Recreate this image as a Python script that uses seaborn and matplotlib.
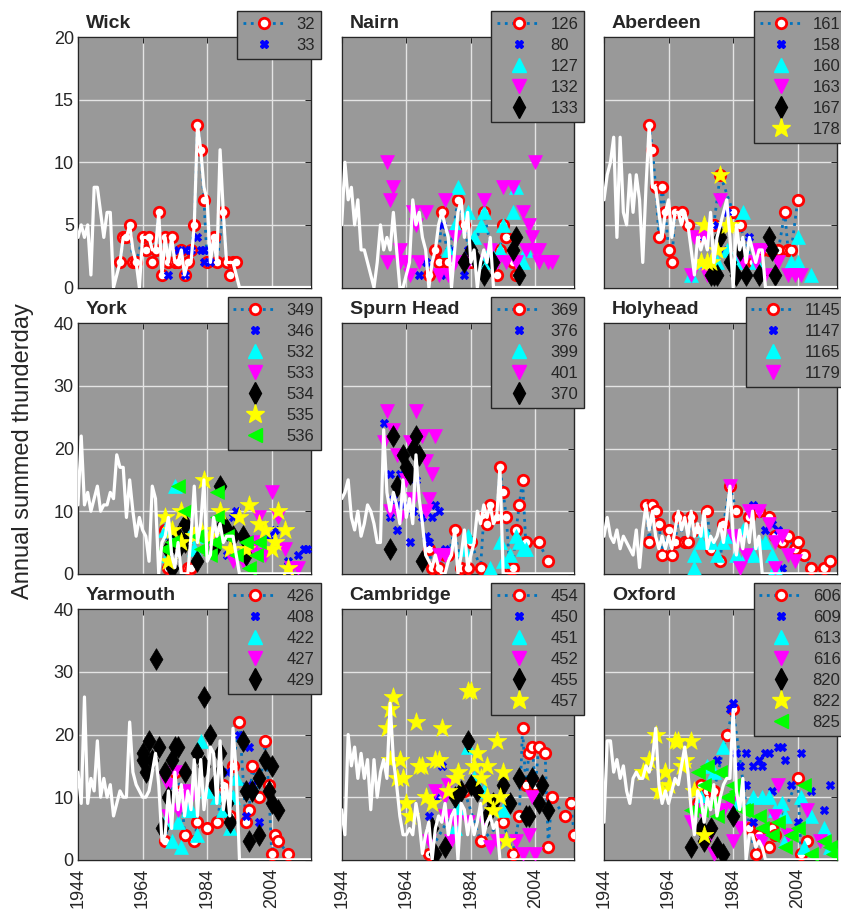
import matplotlib
matplotlib.use("Agg")
import matplotlib.pyplot as plt
import seaborn as sns
import pandas as pd
from matplotlib.lines import Line2D

# ---------------- data ----------------
YEARS = list(range(1944, 2017))
XTICKS = [1944, 1964, 1984, 2004]

wick_white = [4,5,4,5,1,8,8,6,4,6,6,0,1,2,4,4,5,3,2,0,4,4,4,3,3,6,1,4,2,4,2,2,3,1,2,2,5,13,11,8,7,2,4,2,11,6,2,2,2,1,
              0,0,0,0,0,0,0,0,0,0,0,0,0,0,0,0,0,0,0,0,0,0,0]
wick_32 = [(1957,2),(1958,4),(1959,4),(1960,5),(1961,2),(1962,2),(1964,4),(1965,3),(1966,4),(1967,2),(1968,3),(1969,6),
           (1970,1),(1971,4),(1972,2),(1973,4),(1974,2),(1975,2),(1976,3),(1977,1),(1978,2),(1979,3),(1980,5),(1981,13),
           (1982,11),(1983,7),(1984,2),(1986,4),(1987,2),(1989,6),(1990,2),(1991,1),(1992,2),(1993,2)]
wick_33 = [(1972,1),(1975,3),(1977,3),(1977,1),(1979,3),(1981,4),(1982,3),(1983,3),(1983,2),(1985,2)]

nairn_white = [5,10,7,8,5,7,3,3,2,1,0,2,5,3,4,3,6,3,0,0,1,2,7,5,6,4,3,0,2,3,5,6,5,4,0,3,6,7,4,6,2,3,0,2,3,2,4,0,
               0,0,0,0,0,0,0,0,0,0,0,0,0,0,0,0,0,0,0,0,0,0,0,0,0]
nairn_126 = [(1971,1),(1973,3),(1974,2),(1975,6),(1977,2),(1980,7),(1982,5),(1984,2),(1988,6),(1992,1),(1993,3),
             (1994,5),(1995,4),(1997,2),(1998,1)]
nairn_80 = [(1968,1),(1970,2),(1975,5),(1976,1),(1978,3),(1982,1),(1983,3)]
nairn_127 = [(1977,3),(1979,5),(1980,8),(1983,6),(1985,4),(1987,5),(1988,2),(1988,6),(1990,3),(1993,3),(1994,5),
             (1997,6),(1998,8),(2000,2),(2001,3)]
nairn_132 = [(1958,10),(1958,2),(1959,7),(1960,8),(1962,2),(1962,3),(1964,2),(1965,1),(1966,6),(1967,5),(1968,2),
             (1970,6),(1974,1),(1976,7),(1977,1),(1979,2),(1979,4),(1983,2),(1986,2),(1988,7),(1990,3),(1992,2),
             (1994,8),(1995,2),(1997,8),(1998,2),(2000,6),(2001,3),(2002,5),(2003,4),(2004,10),(2004,3),(2005,2),
             (2005,3),(2008,2),(2009,2)]
nairn_133 = [(1982,2),(1984,3),(1986,2),(1988,1),(1991,2),(1997,3),(1998,4),(1999,1)]

aber_white = [7,9,10,12,4,12,6,5,9,6,9,7,2,8,13,8,8,6,4,6,7,4,6,6,5,6,5,3,1,4,3,4,3,6,2,4,5,6,7,4,0,5,3,4,2,4,3,2,3,3,0,
              0,0,0,0,0,0,0,0,0,0,0,0,0,0,0,0,0,0,0,0,0,0]
aber_161 = [(1958,13),(1959,11),(1960,8),(1961,4),(1962,8),(1963,6),(1964,3),(1965,2),(1966,6),(1968,6),(1970,5),
            (1973,4),(1978,5),(1980,9),(1984,6),(1986,5),(1990,2),(1993,3),(1995,3),(1998,3),(2000,6),(2001,3),
            (2002,3),(2004,7)]
aber_158 = [(1975,4),(1979,5),(1981,3),(1982,6),(1989,4)]
aber_160 = [(1971,1),(1974,2),(1979,2),(1982,3),(1985,2),(1987,6),(1991,2),(2002,2),(2004,2),(2004,4),(2008,1)]
aber_163 = [(1971,1),(1972,4),(1975,4),(1976,1),(1980,7),(1987,2),(1991,2),(1991,3),(1993,3),(1994,1),(1998,2),
            (2001,1),(2003,1),(2005,1)]
aber_167 = [(1977,1),(1978,1),(1979,1),(1980,4),(1983,2),(1985,1),(1986,3),(1988,1),(1992,1),(1995,4),(1996,3),(1997,1)]
aber_178 = [(1974,2),(1975,5),(1976,2),(1977,2),(1979,3),(1980,9),(1982,5),(1983,5)]

york_white = [11,22,11,13,10,12,14,10,11,11,13,12,19,17,17,9,15,10,6,9,7,6,2,14,12,0,5,6,9,3,1,5,0,0,0,6,14,5,8,15,
              2,3,9,6,8,5,6,6,6,3,0,0,0,0,0,0,0,0,0,0,0,0,0,0,0,0,0,0,0,0,0,0,0]
york_349 = [(1971,7),(1972,1),(1978,1),(1979,1)]
york_346 = [(1990,3),(1992,9),(1993,10),(2003,6),(2005,7),(2009,2),(2012,3),(2014,4),(2015,4)]
york_532 = [(1971,7),(1972,3),(1973,5),(1974,14),(1978,6),(1980,4),(1983,6)]
york_533 = [(1985,5),(1992,2),(1995,2),(1998,4),(1999,5),(2000,9),(2001,3),(2002,3),(2004,13),(2006,9),(2008,4),
            (2010,1),(2012,1)]
york_534 = [(1972,4),(1973,1),(1975,6),(1975,4),(1977,8),(1977,5),(1981,2),(1986,4),(1988,14),(1989,8),(1990,7),
            (1992,6),(1995,6),(1996,3)]
york_535 = [(1971,9),(1972,2),(1973,7),(1976,10),(1976,5),(1980,6),(1982,7),(1983,15),(1985,6),(1988,10),(1991,4),
            (1994,9),(1996,4),(1997,11),(2000,8),(2002,7),(2004,4),(2005,5),(2006,10),(2008,7),(2009,1)]
york_536 = [(1971,4),(1973,5),(1975,14),(1977,10),(1981,6),(1982,4),(1985,3),(1986,5),(1987,13),(1987,9),(1990,6),
            (1993,3),(1996,5),(1997,1),(1999,3),(2000,5)]

spurn_white = [12,13,15,9,7,10,6,8,11,10,8,5,5,23,13,10,13,11,8,15,9,12,8,19,12,8,3,2,1,3,1,0,0,2,3,7,0,3,7,1,3,5,
               10,8,11,9,11,8,9,17,0,0,0,0,0,0,0,0,0,0,0,0,0,0,0,0,0,0,0,0,0,0,0]
spurn_369 = [(1971,4),(1972,1),(1974,1),(1976,3),(1977,3),(1979,7),(1981,1),(1983,1),(1984,5),(1987,1),(1988,9),
             (1989,8),(1990,11),(1992,9),(1993,17),(1994,13),(1995,9),(1996,1),(1997,1),(1998,7),(1999,11),
             (2000,15),(2001,5),(2005,5),(2008,2)]
spurn_376 = [(1957,24),(1959,16),(1959,9),(1960,12),(1961,11),(1961,7),(1962,16),(1963,11),(1965,5),(1966,10),
             (1967,15),(1969,9),(1970,6),(1971,5),(1972,9),(1973,11),(1974,10),(1976,4)]
spurn_399 = [(1982,4),(1983,6),(1990,1),(1993,5),(1994,2),(1996,3),(1998,6),(1999,5),(2000,4),(2001,4)]
spurn_401 = [(1957,21),(1958,26),(1959,10),(1960,23),(1961,19),(1962,9),(1964,15),(1965,21),(1966,12),(1967,26),
             (1969,22),(1970,18),(1970,10),(1971,12),(1972,16),(1973,22),(1974,3),(1976,3)]
spurn_370 = [(1959,4),(1960,22),(1961,14),(1963,19),(1964,17),(1965,16),(1966,20),(1967,22),(1968,19),(1969,2)]

holy_white = [6,9,6,5,7,4,6,5,4,3,7,1,7,11,7,10,6,4,6,4,6,4,7,10,7,9,6,10,6,8,6,10,4,6,5,6,8,5,9,14,6,3,7,4,8,5,
              10,4,6,0,0,0,0,0,0,0,0,0,0,0,0,0,0,0,0,0,0,0,0,0,0,0,0]
holy_1145 = [(1957,11),(1958,5),(1959,11),(1960,10),(1961,8),(1962,3),(1964,7),(1965,3),(1966,5),(1967,9),(1969,5),
             (1970,5),(1971,9),(1973,7),(1976,10),(1977,4),(1980,2),(1981,8),(1983,14),(1985,10),(1989,9),(1990,10),
             (1992,10),(1995,9),(1997,6),(1999,5),(2001,6),(2003,4),(2004,5),(2006,3),(2008,1),(2012,1),(2014,2)]
holy_1147 = [(1990,11),(1994,7),(1996,8),(1998,7),(1999,1)]
holy_1165 = [(1972,1),(1972,3),(1974,5),(1975,7),(1977,5),(1979,3),(1981,5),(1983,6),(1985,3),(1987,7),(1988,3),
             (1990,3),(1992,5),(1994,5),(1996,3),(1997,1)]
holy_1179 = [(1983,14),(1984,6),(1985,5),(1986,1),(1988,3),(1989,10),(1992,10),(1995,8),(1997,5),(1997,1),(1999,6),
             (2001,3),(2003,2)]

yar_white = [14,9,26,9,13,11,19,10,13,10,12,7,9,11,10,10,22,14,12,11,10,10,11,14,17,12,3,4,11,5,14,8,12,7,11,8,16,
             7,16,8,12,18,17,9,19,8,12,7,21,14,0,0,0,0,0,0,0,0,0,0,0,0,0,0,0,0,0,0,0,0,0,0,0]
yar_426 = [(1971,3),(1974,14),(1976,11),(1977,4),(1980,3),(1981,6),(1984,5),(1987,6),(1989,12),(1991,7),(1992,15),
           (1994,22),(1996,6),(1997,8),(1998,15),(2000,10),(2002,19),(2003,12),(2004,1),(2005,4),(2006,3),(2009,1)]
yar_408 = [(1990,14),(1994,20),(1996,7),(1997,18),(1998,12),(2000,6)]
yar_422 = [(1971,6),(1973,3),(1975,6),(1976,2),(1978,8),(1979,8),(1981,4),(1982,19),(1984,11),(1987,10),(1989,8),
           (1991,5),(1992,10),(1993,13)]
yar_427 = [(1971,13),(1972,12),(1972,7),(1974,14),(1975,8),(1977,10),(1978,11),(1979,10)]
yar_429 = [(1964,17),(1964,16),(1965,14),(1966,19),(1967,16),(1968,32),(1969,18),(1970,5),(1971,14),(1972,10),
           (1973,16),(1974,18),(1975,18),(1977,14),(1981,17),(1983,26),(1983,15),(1985,20),(1986,12),(1988,17),
           (1988,14),(1990,9),(1991,6),(1995,19),(1996,11),(1997,3),(1998,11),(2000,13),(2000,4),(2002,16),
           (2003,11),(2004,15),(2004,9),(2006,8)]

cam_white = [8,4,20,15,18,13,17,13,16,8,16,10,14,16,13,25,16,12,7,4,4,5,4,9,6,1,4,6,0,5,7,6,9,4,7,8,0,9,8,4,7,4,6,
             9,4,6,7,5,6,0,0,0,0,0,0,0,0,0,0,0,0,0,0,0,0,0,0,0,0,0,0,0,0]
cam_454 = [(1971,1),(1982,11),(1987,3),(1994,6),(1997,1),(1999,7),(2000,21),(2001,12),(2002,17),(2003,18),(2004,12),
           (2005,18),(2007,17),(2008,2),(2009,10),(2013,7),(2015,9),(2016,4)]
cam_450 = [(1971,7),(1973,10),(1975,15)]
cam_451 = [(1979,5),(1980,8),(1983,18),(1985,13),(1988,11),(1994,8)]
cam_452 = [(1971,3),(1973,11),(1976,10),(1976,7),(1977,12),(1978,3),(1979,6),(1983,6),(1988,6),(1990,2),(1992,3),
           (1998,3),(2000,1),(2002,4),(2003,10),(2004,1)]
cam_455 = [(1972,5),(1973,1),(1976,2),(1979,10),(1981,11),(1983,19),(1984,12),(1986,11),(1989,7),(1991,9),(1994,12),
           (1996,9),(1999,13),(2001,7),(2002,7),(2003,13),(2005,9),(2006,12),(2008,8)]
cam_457 = [(1958,21),(1959,24),(1959,16),(1960,26),(1961,13),(1962,16),(1963,13),(1964,9),(1965,7),(1967,22),
           (1968,15),(1969,15),(1970,10),(1972,9),(1973,16),(1974,16),(1975,21),(1977,11),(1979,13),(1980,14),
           (1983,27),(1984,27),(1985,15),(1986,17),(1987,13),(1989,15),(1989,10),(1991,8),(1992,19),(1993,10),
           (1994,14),(1995,3)]

ox_white = [6,19,19,14,16,13,15,11,9,13,14,13,13,15,14,16,21,12,9,11,9,11,13,12,15,18,14,8,4,11,10,6,10,8,12,7,10,
            12,13,13,24,11,8,13,0,4,4,2,3,2,0,0,0,0,0,0,0,0,0,0,0,0,0,0,0,0,0,0,0,0,0,0,0]
ox_606 = [(1973,9),(1974,12),(1976,11),(1978,11),(1982,20),(1984,24),(1989,5),(1991,1),(1992,4),(1995,2),(1996,5),
          (1997,4),(2004,13),(2005,1),(2007,3)]
ox_609 = [(1979,16),(1983,24),(1984,25),(1985,17),(1986,15),(1987,12),(1988,17),(1988,12),(1990,15),(1990,6),
          (1992,16),(1993,15),(1994,17),(1995,17),(1996,11),(1998,18),(1999,18),(2000,16),(2002,12),(2004,6),
          (2005,17),(2008,11),(2012,8),(2014,12)]
ox_613 = [(1974,10),(1976,15),(1978,14),(1981,18),(1985,9),(1990,10),(1993,10),(1995,10),(1997,8),(1999,9),
          (2000,7),(2000,3),(2005,10),(2006,2),(2008,7),(2012,5),(2014,2)]
ox_616 = [(1971,6),(1974,8),(1976,3),(1978,1),(1981,8),(1983,9),(1984,3),(1986,5),(1993,3),(1997,7),(1998,12),
          (2001,4),(2007,8),(2011,3)]
ox_820 = [(1971,2),(1974,5),(1975,3),(1977,5),(1979,2),(1981,1),(1984,7)]
ox_822 = [(1956,14),(1958,16),(1960,20),(1961,11),(1962,11),(1963,14),(1964,12),(1966,19),(1967,19),(1968,15),
          (1969,16),(1971,19),(1972,11),(1975,4)]
ox_825 = [(1971,8),(1973,14),(1974,8),(1975,12),(1976,15),(1977,9),(1979,7),(1980,14),(1982,10),(1984,12),(1985,11),
          (1987,8),(1988,8),(1992,7),(1993,5),(1996,4),(1998,6),(2000,2),(2002,4),(2004,5),(2006,12),(2008,1),
          (2012,3),(2014,2),(2015,1)]

STATIONS = [
    ("Wick", wick_white, [("32", wick_32), ("33", wick_33)], 20),
    ("Nairn", nairn_white, [("126", nairn_126), ("80", nairn_80), ("127", nairn_127), ("132", nairn_132),
                            ("133", nairn_133)], 20),
    ("Aberdeen", aber_white, [("161", aber_161), ("158", aber_158), ("160", aber_160), ("163", aber_163),
                              ("167", aber_167), ("178", aber_178)], 20),
    ("York", york_white, [("349", york_349), ("346", york_346), ("532", york_532), ("533", york_533),
                          ("534", york_534), ("535", york_535), ("536", york_536)], 40),
    ("Spurn Head", spurn_white, [("369", spurn_369), ("376", spurn_376), ("399", spurn_399), ("401", spurn_401),
                                 ("370", spurn_370)], 40),
    ("Holyhead", holy_white, [("1145", holy_1145), ("1147", holy_1147), ("1165", holy_1165),
                              ("1179", holy_1179)], 40),
    ("Yarmouth", yar_white, [("426", yar_426), ("408", yar_408), ("422", yar_422), ("427", yar_427),
                             ("429", yar_429)], 40),
    ("Cambridge", cam_white, [("454", cam_454), ("450", cam_450), ("451", cam_451), ("452", cam_452),
                              ("455", cam_455), ("457", cam_457)], 40),
    ("Oxford", ox_white, [("606", ox_606), ("609", ox_609), ("613", ox_613), ("616", ox_616), ("820", ox_820),
                          ("822", ox_822), ("825", ox_825)], 40),
]

# ---------------- style ----------------
sns.set_style("white")
plt.rcParams["font.family"] = ["Liberation Sans", "DejaVu Sans"]

MARKERS = [
    None,
    dict(marker="X", ms=6, color=(0, 0, 1)),
    dict(marker="^", ms=10, color=(0, 1, 1)),
    dict(marker="v", ms=10, color=(1, 0, 1)),
    dict(marker="d", ms=11, color=(0, 0, 0)),
    dict(marker="*", ms=14, color=(1, 1, 0)),
    dict(marker="<", ms=10, color=(0, 1, 0)),
]
DOT_BLUE = "#0072BD"
BG = "#999999"
EDGE = "#262626"

W, H = 841, 910
fig = plt.figure(figsize=(W / 100, H / 100), dpi=100)
col_left = [78, 341.7, 604]
row_top = [37, 323.3, 609.3]
aw, ah = 232.5, 250.5

for i, (name, white, series, ymax) in enumerate(STATIONS):
    r, c = divmod(i, 3)
    ax = fig.add_axes([col_left[c] / W, 1 - (row_top[r] + ah) / H, aw / W, ah / H])
    ax.set_facecolor(BG)
    handles, labels = [], []
    for k, (lab, pts) in enumerate(series):
        df = pd.DataFrame(pts, columns=["year", "val"])
        if k == 0:
            sns.lineplot(data=df, x="year", y="val", ax=ax, estimator=None, sort=True,
                         color=DOT_BLUE, linestyle=":", linewidth=2.0, marker="o", markersize=7.5,
                         markerfacecolor="white", markeredgecolor="red", markeredgewidth=2.0, zorder=3)
            h = Line2D([], [], color=DOT_BLUE, linestyle=":", linewidth=2.0, marker="o", markersize=7.5,
                       markerfacecolor="white", markeredgecolor="red", markeredgewidth=2.0)
        else:
            st = MARKERS[k]
            sns.scatterplot(data=df, x="year", y="val", ax=ax, marker=st["marker"], s=st["ms"] ** 2,
                            color=st["color"], edgecolor=st["color"], linewidth=0.5, zorder=3 + k)
            h = Line2D([], [], linestyle="none", marker=st["marker"], markersize=st["ms"],
                       color=st["color"], markeredgecolor=st["color"])
        handles.append(h)
        labels.append(lab)
    sns.lineplot(x=YEARS, y=white, ax=ax, estimator=None, color="white", linewidth=2.3, zorder=12)

    ax.set_xlim(1944, 2016)
    ax.set_ylim(0, ymax)
    ax.set_xticks(XTICKS)
    ax.set_yticks(list(range(0, ymax + 1, ymax // 4)))
    ax.set_xlabel("")
    ax.set_ylabel("")
    ax.grid(True, color="#e4e4e4", linewidth=1.0)
    ax.set_axisbelow(True)
    for sp in ax.spines.values():
        sp.set_color(EDGE)
        sp.set_linewidth(1.0)
    ax.tick_params(direction="in", top=True, right=True, length=4, width=0.8, color=EDGE,
                   labelsize=13, labelleft=(c == 0), labelbottom=(r == 2))
    ax.tick_params(axis="x", pad=6)
    ax.tick_params(axis="y", pad=3)
    if r == 2:
        for t in ax.get_xticklabels():
            t.set_rotation(90)

    ax.text(8 / aw, 1 + 9 / ah, name, transform=ax.transAxes, fontsize=14, fontweight="bold",
            ha="left", va="baseline")

    leg = ax.legend(handles, labels, loc="upper right", bbox_to_anchor=(1 + 10 / aw, 1 + 26 / ah),
                    borderaxespad=0, fontsize=12, frameon=True, fancybox=False, facecolor=BG,
                    edgecolor=EDGE, framealpha=1, handlelength=2.6, handletextpad=0.6,
                    labelspacing=0.36, borderpad=0.35)
    leg.get_frame().set_linewidth(1.0)
    leg.set_zorder(20)

fig.text(23 / W, 1 - 451 / H, "Annual summed thunderday", rotation=90, ha="center", va="center", fontsize=17)

fig.savefig("out.png", dpi=100, facecolor="white")
